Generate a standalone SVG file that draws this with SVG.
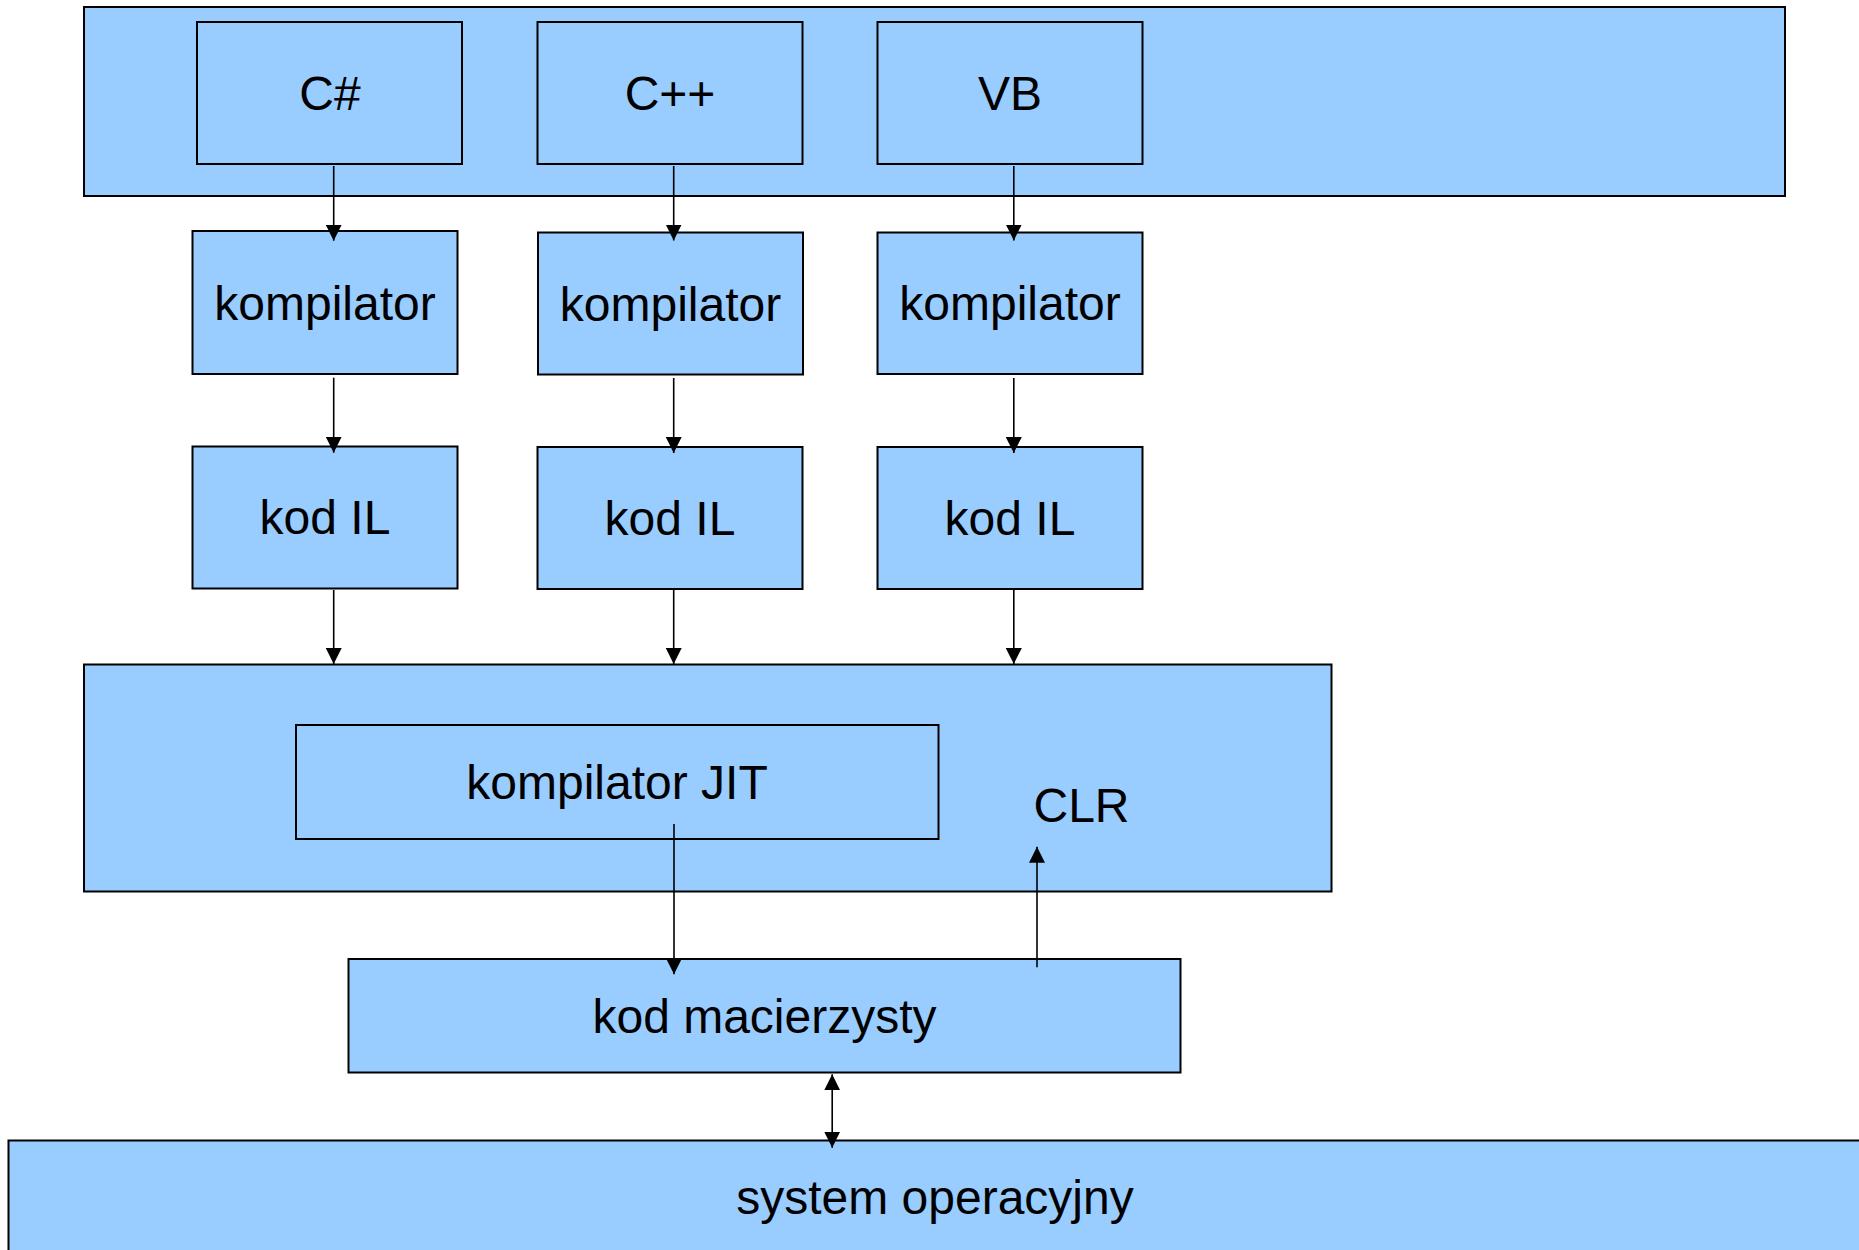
<svg xmlns="http://www.w3.org/2000/svg" width="1859" height="1250" viewBox="0 0 1859 1250">
<style>
.box{fill:#99ccff;stroke:#000;stroke-width:2}
.lbl{font-family:"Liberation Sans",Arial,sans-serif;font-size:48px;fill:#000;text-anchor:middle}
.con{stroke:#000;stroke-width:1.6;fill:none}
</style>
<defs>
<marker id="ah" markerUnits="userSpaceOnUse" markerWidth="16" markerHeight="16" refX="15" refY="7.5" orient="auto-start-reverse" viewBox="0 0 15 15">
<path d="M0,0 L15,7.5 L0,15 z" fill="#000"/>
</marker>
</defs>
<rect width="1859" height="1250" fill="#fff"/>
<g id="band-languages"><rect class="box" x="84" y="7" width="1701" height="189"/></g>
<g id="node-csharp"><rect class="box" x="197" y="22" width="265" height="142"/><text class="lbl" x="330" y="110">C#</text></g>
<g id="node-cpp"><rect class="box" x="537.5" y="22" width="265" height="142"/><text class="lbl" x="670" y="110">C++</text></g>
<g id="node-vb"><rect class="box" x="877.5" y="22" width="265" height="142"/><text class="lbl" x="1010" y="110">VB</text></g>
<g id="node-komp1"><rect class="box" x="192.5" y="231" width="265" height="143"/><text class="lbl" x="325" y="320">kompilator</text></g>
<g id="node-komp2"><rect class="box" x="538" y="232.5" width="265" height="142"/><text class="lbl" x="670.5" y="321">kompilator</text></g>
<g id="node-komp3"><rect class="box" x="877.5" y="232.5" width="265" height="141.5"/><text class="lbl" x="1010" y="320">kompilator</text></g>
<g id="node-il1"><rect class="box" x="192.5" y="446.5" width="265" height="142"/><text class="lbl" x="325" y="534">kod IL</text></g>
<g id="node-il2"><rect class="box" x="537.5" y="447" width="265" height="142"/><text class="lbl" x="670" y="535">kod IL</text></g>
<g id="node-il3"><rect class="box" x="877.5" y="447" width="265" height="142"/><text class="lbl" x="1010" y="535">kod IL</text></g>
<g id="node-clr"><rect class="box" x="84" y="664.5" width="1247.5" height="227"/><text class="lbl" x="1081.5" y="822">CLR</text></g>
<g id="node-jit"><rect class="box" x="296" y="725" width="642.5" height="114"/><text class="lbl" x="617" y="799">kompilator JIT</text></g>
<g id="node-native"><rect class="box" x="348.5" y="959" width="832" height="113.5"/><text class="lbl" x="764.5" y="1033">kod macierzysty</text></g>
<g id="node-os"><rect class="box" x="8.5" y="1140.5" width="1860" height="120"/><text class="lbl" x="935" y="1214">system operacyjny</text></g>
<g id="connectors">
<line class="con" x1="333.7" y1="166" x2="333.7" y2="240.7" marker-end="url(#ah)"/>
<line class="con" x1="673.7" y1="166" x2="673.7" y2="240.5" marker-end="url(#ah)"/>
<line class="con" x1="1013.8" y1="166" x2="1013.8" y2="240.5" marker-end="url(#ah)"/>
<line class="con" x1="333.7" y1="377.7" x2="333.7" y2="452.7" marker-end="url(#ah)"/>
<line class="con" x1="673.7" y1="378" x2="673.7" y2="453" marker-end="url(#ah)"/>
<line class="con" x1="1013.8" y1="378" x2="1013.8" y2="453" marker-end="url(#ah)"/>
<line class="con" x1="333.7" y1="590" x2="333.7" y2="664" marker-end="url(#ah)"/>
<line class="con" x1="673.7" y1="590" x2="673.7" y2="664" marker-end="url(#ah)"/>
<line class="con" x1="1013.8" y1="590" x2="1013.8" y2="664" marker-end="url(#ah)"/>
<line class="con" x1="674" y1="824" x2="674" y2="974.3" marker-end="url(#ah)"/>
<line class="con" x1="1037" y1="967.3" x2="1037" y2="846.7" marker-end="url(#ah)"/>
<line class="con" x1="832.2" y1="1074.3" x2="832.2" y2="1147.7" marker-start="url(#ah)" marker-end="url(#ah)"/>
</g>
</svg>
